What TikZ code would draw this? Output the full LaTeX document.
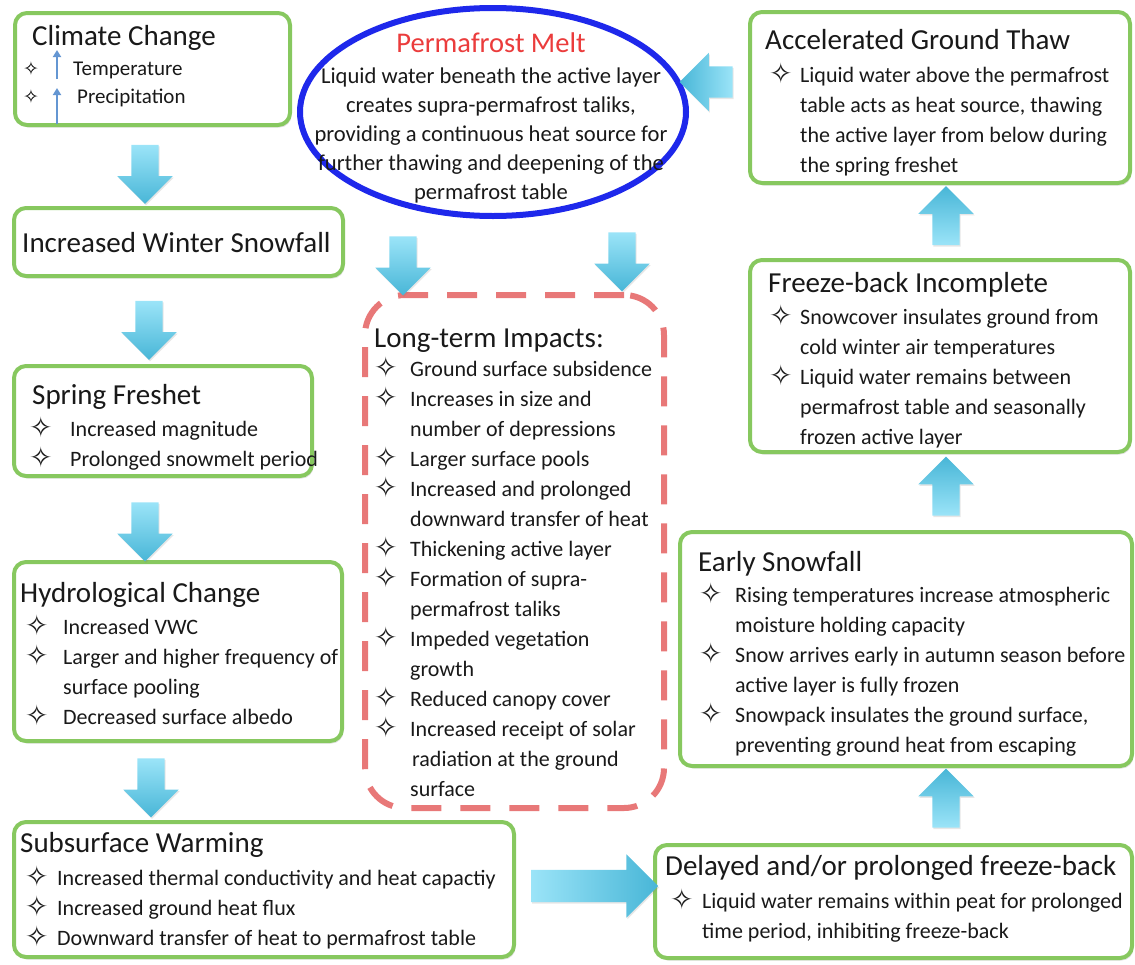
\documentclass[tikz,border=0pt]{standalone}
\usepackage{fontspec}
\setmainfont{Carlito}
\newfontfamily\symfont{DejaVu Sans}
\usetikzlibrary{shapes.arrows,shapes.geometric,fit,shadows,arrows.meta}
\definecolor{boxgreen}{RGB}{135,200,95}
\definecolor{meltblue}{RGB}{30,40,235}
\definecolor{dashred}{RGB}{232,120,120}
\definecolor{arrlight}{RGB}{155,228,248}
\definecolor{arrdark}{RGB}{72,182,215}
\definecolor{txtc}{RGB}{25,25,25}
\definecolor{meltred}{RGB}{235,60,60}
\definecolor{smallarr}{RGB}{100,150,210}
\newcommand\bstar{\smash{\raisebox{-1pt}{\symfont\fontsize{28}{28}\selectfont ✧}}}
\newcommand\sstar{\smash{\symfont\fontsize{19}{19}\selectfont ✧}}
\newcommand\blist[2]{\begin{tabular}[t]{@{}p{#1}@{}l@{}}#2\end{tabular}}
\tikzset{
  gbox/.style={draw=boxgreen, line width=4pt, rounded corners=12pt, fill=white, inner sep=0pt,
    drop shadow={opacity=0.25, shadow xshift=1.5pt, shadow yshift=-2.5pt}},
  dbox/.style={draw=dashred, line width=6pt, rounded corners=40pt, inner sep=0pt,
    dash pattern=on 30pt off 19pt},
  ttl/.style={anchor=base west, inner sep=0pt, font=\fontsize{29}{30}\selectfont, text=txtc},
  bdy/.style={anchor=base west, inner sep=0pt, font=\fontsize{22}{30}\selectfont, text=txtc},
  barr/.style={single arrow, draw=none, inner sep=13.5pt, single arrow head extend=14pt,
    drop shadow={opacity=0.2, shadow xshift=1pt, shadow yshift=-1.5pt}},
  darr/.style={barr, shape border rotate=270, minimum height=59pt,
    top color=arrlight, bottom color=arrdark},
  uarr/.style={barr, shape border rotate=90, minimum height=59pt,
    top color=arrdark, bottom color=arrlight},
  larr/.style={barr, shape border rotate=180, minimum height=53pt, inner sep=15.5pt,
    single arrow head extend=13.5pt, left color=arrdark, right color=arrlight},
  rarr/.style={barr, shape border rotate=0, minimum height=127pt, inner sep=16pt,
    single arrow head extend=15.5pt, left color=arrlight, right color=arrdark},
  sarr/.style={draw=smallarr, line width=2.5pt, -{Triangle[width=8pt,length=7pt]}},
}
\begin{document}
\begin{tikzpicture}[x=1pt,y=-1pt]
\useasboundingbox (0,0) rectangle (1135,964);

% ---------- boxes ----------
\node[gbox, fit={(15,13) (290,125)}] (cc) {};
\node[gbox, fit={(14,208) (343,276)}] (ws) {};
\node[gbox, fit={(14,366) (312,476)}] (sf) {};
\node[gbox, fit={(14,562) (342,741)}] (hc) {};
\node[gbox, fit={(14,822) (514,957)}] (sw) {};
\node[gbox, fit={(655,845) (1132,958)}] (dp) {};
\node[gbox, fit={(680,532) (1132,766)}] (es) {};
\node[gbox, fit={(750,260) (1130,452)}] (fi) {};
\node[gbox, fit={(750,12) (1130,183)}] (ag) {};
\node[dbox, fit={(365,295) (664,808)}] (lt) {};
\node[ellipse, draw=meltblue, line width=6pt, fill=white, minimum width=386pt, minimum height=208pt, inner sep=0pt] (pm) at (493,112) {};

% ---------- Climate Change ----------
\node[ttl] (cct) at (32,45) {Climate Change};
\node[anchor=base west, inner sep=0pt] (ccs1) at (23,75) {\sstar};
\node[anchor=base west, inner sep=0pt] (ccs2) at (23,103) {\sstar};
\node[bdy, font=\fontsize{21}{30}\selectfont] (cc1) at (73,75) {Temperature};
\node[bdy, font=\fontsize{21}{30}\selectfont] (cc2) at (77,103) {Precipitation};
\coordinate (up1a) at (57,79); \coordinate (up1b) at (57,50);
\coordinate (up2a) at (57,124); \coordinate (up2b) at (57,88);
\draw[sarr] (up1a) -- (up1b);
\draw[sarr] (up2a) -- (up2b);

% ---------- left column ----------
\node[ttl] (wst) at (22,252) {Increased Winter Snowfall};

\node[ttl] (sft) at (32,404) {Spring Freshet};
\node[bdy] (sfl) at (29,436) {\blist{41pt}{\bstar & Increased magnitude\\ \bstar & Prolonged snowmelt period}};

\node[ttl] (hct) at (20,602) {Hydrological Change};
\node[bdy] (hcl) at (25,634) {\blist{38pt}{\bstar & Increased VWC\\ \bstar & Larger and higher frequency of\\ & surface pooling\\ \bstar & Decreased surface albedo}};

\node[ttl] (swt) at (20,852) {Subsurface Warming};
\node[bdy] (swl) at (25,885) {\blist{32pt}{\bstar & Increased thermal conductivity and heat capactiy\\ \bstar & Increased ground heat flux\\ \bstar & Downward transfer of heat to permafrost table}};

% ---------- right column ----------
\node[ttl] (dpt) at (665,875) {Delayed and/or prolonged freeze-back};
\node[bdy] (dpl) at (670,908) {\blist{32pt}{\bstar & Liquid water remains within peat for prolonged\\ & time period, inhibiting freeze-back}};

\node[ttl] (est) at (698,571) {Early Snowfall};
\node[bdy] (esl) at (699,602) {\blist{36pt}{\bstar & Rising temperatures increase atmospheric\\ & moisture holding capacity\\ \bstar & Snow arrives early in autumn season before\\ & active layer is fully frozen\\ \bstar & Snowpack insulates the ground surface,\\ & preventing ground heat from escaping}};

\node[ttl] (fit) at (768,292) {Freeze-back Incomplete};
\node[bdy] (fil) at (769,324) {\blist{31pt}{\bstar & Snowcover insulates ground from\\ & cold winter air temperatures\\ \bstar & Liquid water remains between\\ & permafrost table and seasonally\\ & frozen active layer}};

\node[ttl] (agt) at (765,49) {Accelerated Ground Thaw};
\node[bdy] (agl) at (769,82) {\blist{31pt}{\bstar & Liquid water above the permafrost\\ & table acts as heat source, thawing\\ & the active layer from below during\\ & the spring freshet}};

% ---------- Permafrost Melt ----------
\node[anchor=base, inner sep=0pt, text=txtc, font=\fontsize{22.6}{29}\selectfont] (pmt) at (491,52) {\begin{tabular}[t]{@{}c@{}}{\fontsize{28.5}{30}\selectfont\color{meltred}Permafrost Melt}\\[2pt]
Liquid water beneath the active layer\\ creates supra-permafrost taliks,\\ providing a continuous heat source for\\ further thawing and deepening of the\\ permafrost table\end{tabular}};

% ---------- Long-term Impacts ----------
\node[ttl] (ltt) at (374,347) {Long-term Impacts:};
\node[bdy] (ltl) at (374,376) {\blist{36pt}{\bstar & Ground surface subsidence\\ \bstar & Increases in size and\\ & number of depressions\\ \bstar & Larger surface pools\\ \bstar & Increased and prolonged\\ & downward transfer of heat\\ \bstar & Thickening active layer\\ \bstar & Formation of supra-\\ & permafrost taliks\\ \bstar & Impeded vegetation\\ & growth\\ \bstar & Reduced canopy cover\\ \bstar & Increased receipt of solar\\ & \hspace{2pt}radiation at the ground\\ & surface}};

% ---------- block arrows ----------
\node[darr] (a1) at (145,167.5) {};
\node[darr] (a2) at (149,323.5) {};
\node[darr] (a3) at (145,525) {};
\node[darr] (a4) at (151,781) {};
\node[darr] (a10) at (403,259) {};
\node[darr] (a11) at (622,255) {};
\node[rarr] (a5) at (586.5,886) {};
\node[uarr] (a6) at (946,805) {};
\node[uarr] (a7) at (946,493) {};
\node[uarr] (a8) at (946,222.5) {};
\node[larr] (a9) at (714,82) {};
\end{tikzpicture}
\end{document}
